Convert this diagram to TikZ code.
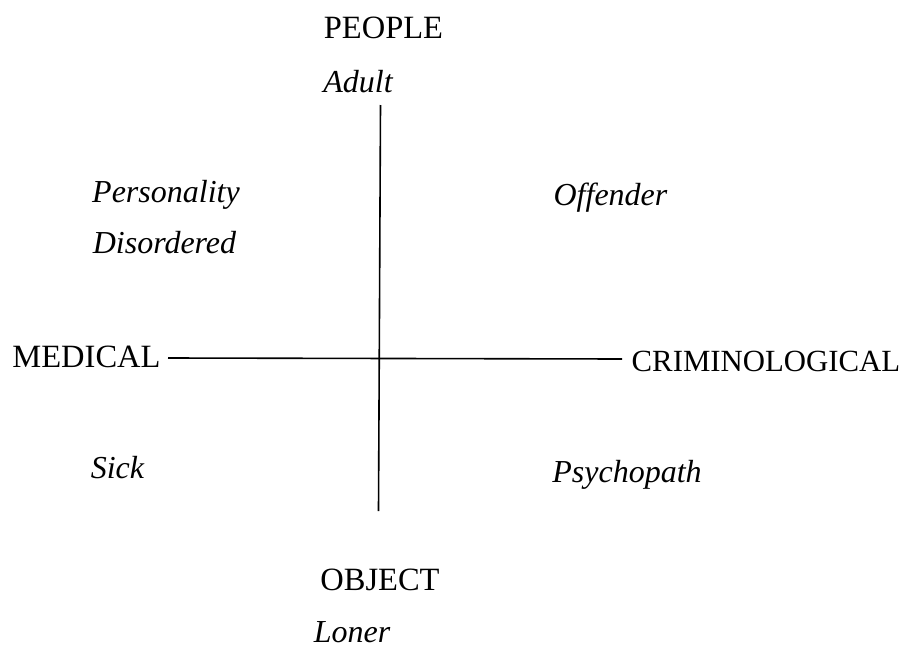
\documentclass[tikz,border=0pt]{standalone}
\usepackage{fontspec}
\setmainfont{Liberation Serif}
\begin{document}
\begin{tikzpicture}[x=1pt,y=-1pt,
  lbl/.style={anchor=base,inner sep=0pt,font=\fontsize{32.5}{38}\selectfont},
  itl/.style={anchor=base,inner sep=0pt,font=\fontsize{32}{38}\selectfont\itshape},
  axis/.style={line width=1.6pt,black}]
\useasboundingbox (0,0) rectangle (906,648);
\node[lbl] (people) at (383.5,38) {PEOPLE};
\node[itl] (adult) at (358,92) {Adult};
\node[itl] (pers) at (166,202) {Personality};
\node[itl] (dis) at (164.5,253) {Disordered};
\node[itl] (off) at (610.5,205) {Offender};
\node[lbl] (med) at (86.5,367) {MEDICAL};
\node[lbl,font=\fontsize{30.8}{36}\selectfont] (crim) at (766,371) {CRIMINOLOGICAL};
\node[itl] (sick) at (117.5,478) {Sick};
\node[itl] (psy) at (627,482) {Psychopath};
\node[lbl] (obj) at (380,590) {OBJECT};
\node[itl] (loner) at (352,642) {Loner};
\coordinate (vtop) at (380.5,105);
\coordinate (vbot) at (378.5,511);
\coordinate (hl) at (168,358);
\coordinate (hr) at (622,359);
\draw[axis] (vtop) -- (vbot);
\draw[axis] (hl) -- (hr);
\end{tikzpicture}
\end{document}
